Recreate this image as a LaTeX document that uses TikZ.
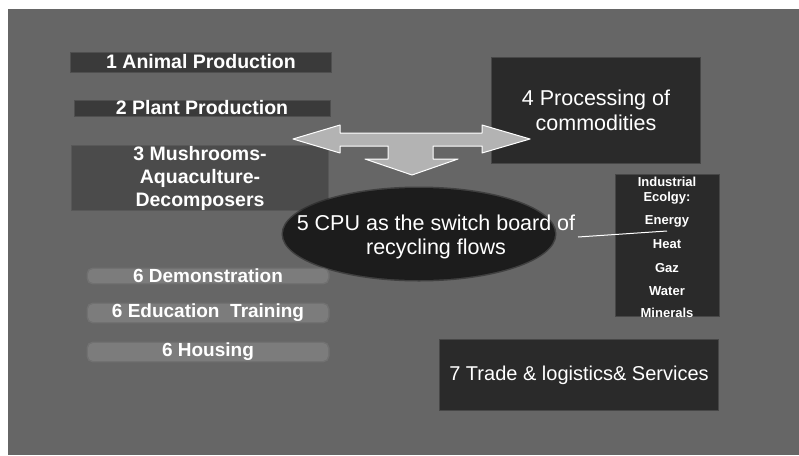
\documentclass[tikz,border=0pt]{standalone}
\usepackage{fontspec}
\setmainfont{Liberation Sans}
\usepackage{tikz}
\usetikzlibrary{shapes.geometric, arrows}
\usepackage{xcolor}
\definecolor{bgcol}{HTML}{666666}
\definecolor{barcol}{HTML}{3A3A3A}
\definecolor{mushcol}{HTML}{4B4B4B}
\definecolor{boxcol}{HTML}{2A2A2A}
\definecolor{cpucol}{HTML}{1C1C1C}
\definecolor{lightcol}{HTML}{7C7C7C}
\definecolor{arrowcol}{HTML}{B3B3B3}

\begin{document}
\begin{tikzpicture}[x=1pt, y=-1pt,
  darkbar/.style={fill=barcol, draw=barcol, draw opacity=.5, line width=2pt, text=white, font=\bfseries\fontsize{19.5}{23}\selectfont},
  lightbar/.style={fill=lightcol, draw=lightcol, draw opacity=.5, line width=3pt, rounded corners=5pt, text=white, font=\bfseries\fontsize{19}{23}\selectfont, minimum width=240pt, minimum height=13pt, inner sep=0pt},
  darkbox/.style={fill=boxcol, draw=boxcol, draw opacity=.5, line width=2pt, text=white, align=center, font=\fontsize{20}{25}\selectfont}]
\fill[white] (0,0) rectangle (799,455);
\fill[bgcol] (8,9) rectangle (799,455);
\useasboundingbox (0,0) rectangle (799,455);
\node (anim) at (201,62) [darkbar, minimum width=260pt, minimum height=19pt, inner sep=0pt] {1 Animal Production};
\node (plant) at (202,108) [darkbar, minimum width=255pt, minimum height=15pt, inner sep=0pt] {2 Plant Production};
\node (mush) at (200,178) [darkbar, fill=mushcol, draw=mushcol, minimum width=256pt, minimum height=61pt, inner sep=0pt, align=center, font=\bfseries\fontsize{19.5}{23}\selectfont] {3 Mushrooms-\\Aquaculture-\\Decomposers};
\node (proc) at (596,110) [darkbox, minimum width=208pt, minimum height=105pt, font=\fontsize{21.5}{25}\selectfont] {4 Processing of\\commodities};
\node (cpu) at (419,234) [ellipse, fill=cpucol, draw=cpucol, draw opacity=.5, line width=3pt, minimum width=272pt, minimum height=92pt, inner sep=0pt] {};
\node (cputxt) at (436,237) [text=white, align=center, inner sep=0pt, font=\fontsize{21.5}{24}\selectfont] {5 CPU as the switch board of\\recycling flows};
\node (ieco) at (667,245) [darkbox, minimum width=103pt, minimum height=141pt] {};
\node (iecotxt) at (667,247) [text=white, align=center, inner sep=0pt, font=\bfseries\fontsize{13}{15}\selectfont] {Industrial\\Ecolgy:\\[8pt]Energy\\[9pt]Heat\\[9pt]Gaz\\[8pt]Water\\[7pt]Minerals};
\node (trade) at (579,375) [darkbox, minimum width=278pt, minimum height=70pt] {7 Trade \& logistics\& Services};
\node (demo) at (208,276) [lightbar] {6 Demonstration};
\node (edu) at (208,313) [lightbar] {6 Education~ Training};
\node (house) at (208,352) [lightbar] {6 Housing};
\fill[arrowcol] (293,139) -- (340,125) -- (340,133) -- (482,133) -- (482,125) -- (530,139) -- (482,153) -- (482,146) -- (433,146) -- (433,159) -- (458,159) -- (412,175) -- (365,159) -- (388,159) -- (388,146) -- (340,146) -- (340,153) -- cycle;
\draw[white, line width=1pt, line join=round] (293,139) -- (340,125) -- (340,133) -- (482,133) -- (482,125) -- (530,139) -- (482,153) -- (482,146) -- (433,146) -- (433,159) -- (458,159) -- (412,175) -- (365,159) -- (388,159) -- (388,146) -- (340,146) -- (340,153) -- cycle;
\coordinate (flowA) at (578,237);
\coordinate (flowB) at (667,231);
\draw[white, line width=1pt] (flowA) -- (flowB);
\end{tikzpicture}
\end{document}
